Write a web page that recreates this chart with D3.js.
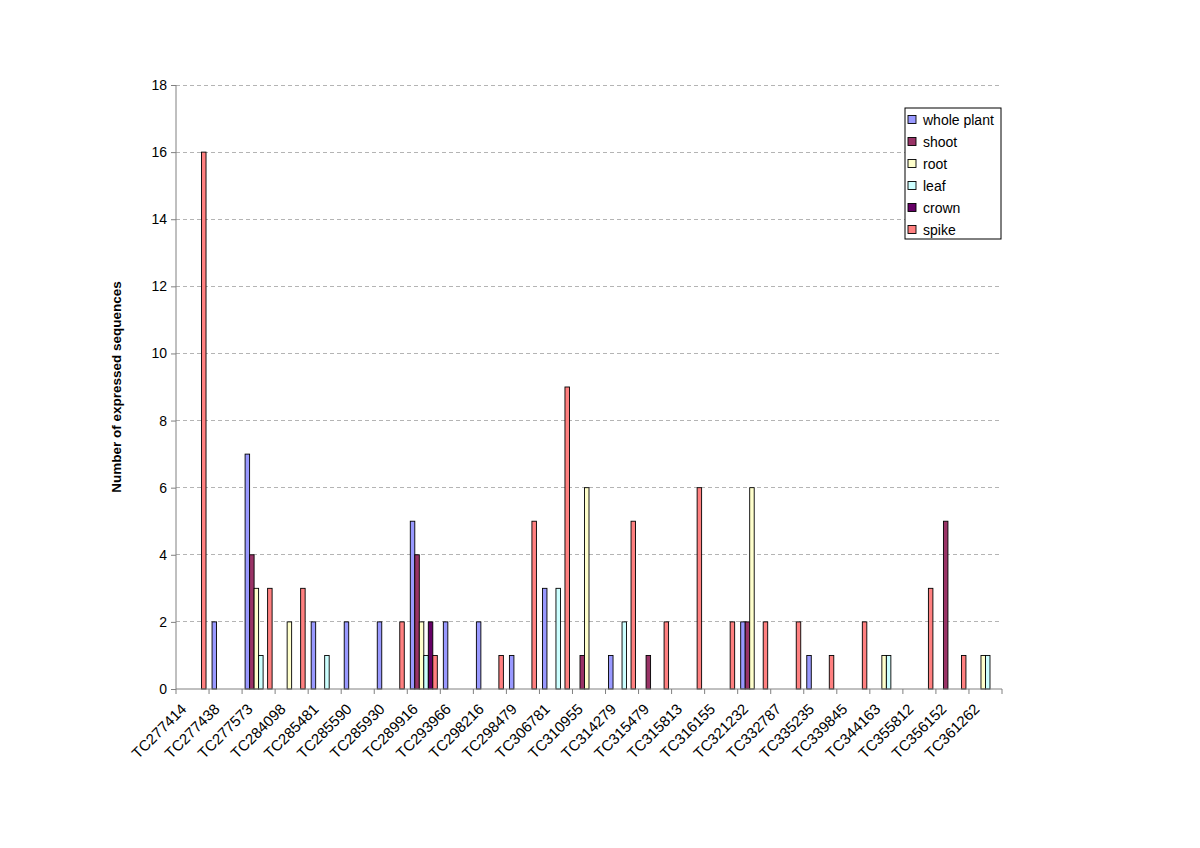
<!DOCTYPE html>
<html>
<head>
<meta charset="utf-8">
<script src="https://cdn.jsdelivr.net/npm/d3@7"></script>
<style>
  html, body { margin: 0; padding: 0; background: #fff; }
  svg { display: block; font-family: "Liberation Sans", Arial, sans-serif; }
</style>
</head>
<body>
<svg id="chart" width="1200" height="848"></svg>
<script>
const categories = ["TC277414","TC277438","TC277573","TC284098","TC285481","TC285590","TC285930","TC289916","TC293966","TC298216","TC298479","TC306781","TC310955","TC314279","TC315479","TC315813","TC316155","TC321232","TC332787","TC335235","TC339845","TC344163","TC355812","TC356152","TC361262"];
const seriesNames = ["whole plant","shoot","root","leaf","crown","spike"];
const seriesColors = ["#9999FF","#993366","#FFFFCC","#CCFFFF","#660066","#FF8080"];
const wholePlant = [0,2,7,0,2,2,2,5,2,2,1,3,0,1,0,0,0,2,0,1,0,0,0,0,0];
const shoot      = [0,0,4,0,0,0,0,4,0,0,0,0,1,0,1,0,0,2,0,0,0,0,0,5,0];
const root       = [0,0,3,2,0,0,0,2,0,0,0,0,6,0,0,0,0,6,0,0,0,1,0,0,1];
const leaf       = [0,0,1,0,1,0,0,1,0,0,0,3,0,2,0,0,0,0,0,0,0,1,0,0,1];
const crown      = [0,0,0,0,0,0,0,2,0,0,0,0,0,0,0,0,0,0,0,0,0,0,0,0,0];
const spike      = [16,0,3,3,0,0,2,1,0,1,5,9,0,5,2,6,2,2,2,1,2,0,3,1,0];
const yTicks = [0,2,4,6,8,10,12,14,16,18];
const yLabel = "Number of expressed sequences";

const seriesValues = [wholePlant, shoot, root, leaf, crown, spike];

(function () {
const svg = d3.select("#chart");
const pL = 176, pR = 1002, pT = 85, pB = 689;

const x = d3.scaleBand().domain(categories).range([pL, pR]).paddingInner(0).paddingOuter(0);
const xs = d3.scaleBand().domain(seriesNames).range([0, x.bandwidth()]).paddingInner(0).paddingOuter(0.67);
const y = d3.scaleLinear().domain([0, 18]).range([pB, pT]);

// gridlines
svg.append("g")
  .selectAll("line")
  .data(yTicks.filter(d => d > 0))
  .join("line")
  .attr("x1", pL).attr("x2", pR)
  .attr("y1", d => y(d)).attr("y2", d => y(d))
  .attr("stroke", "#b4b4b4")
  .attr("stroke-width", 1)
  .attr("stroke-dasharray", "4,3")
  .attr("shape-rendering", "crispEdges");

// bars
const barData = [];
seriesNames.forEach((s, si) => {
  categories.forEach((c, ci) => {
    const v = seriesValues[si][ci];
    if (v > 0) barData.push({ s, si, c, v });
  });
});
svg.append("g")
  .selectAll("rect")
  .data(barData)
  .join("rect")
  .attr("x", d => x(d.c) + xs(d.s))
  .attr("y", d => y(d.v))
  .attr("width", xs.bandwidth())
  .attr("height", d => y(0) - y(d.v))
  .attr("fill", d => seriesColors[d.si])
  .attr("stroke", "#000")
  .attr("stroke-width", 0.9);

// y axis
const yAxis = d3.axisLeft(y).tickValues(yTicks).tickSize(5).tickPadding(4).tickFormat(d3.format("d"));
const gy = svg.append("g").attr("transform", `translate(${pL},0)`).call(yAxis);
gy.select(".domain").attr("stroke", "#808080").attr("d", `M0,${pT}V${pB}`);
gy.selectAll(".tick line").attr("stroke", "#808080");
gy.selectAll(".tick text").attr("font-size", 14).attr("fill", "#000")
  .attr("font-family", "'Liberation Sans', Arial, sans-serif");

// x axis line
svg.append("line")
  .attr("x1", pL).attr("x2", pR)
  .attr("y1", pB).attr("y2", pB)
  .attr("stroke", "#808080");
// x ticks at category boundaries
const boundaries = categories.map(c => x(c)).concat([pR]);
svg.append("g").selectAll("line").data(boundaries).join("line")
  .attr("x1", d => d).attr("x2", d => d)
  .attr("y1", pB).attr("y2", pB + 5)
  .attr("stroke", "#808080");
// x labels
svg.append("g").selectAll("text").data(categories).join("text")
  .attr("transform", c => `translate(${x(c) + x.bandwidth() / 2 - 5},${pB + 21}) rotate(-45)`)
  .attr("text-anchor", "end")
  .attr("font-size", 15)
  .attr("fill", "#000")
  .text(c => c);

// y label
svg.append("text")
  .attr("transform", `translate(121,${(pT + pB) / 2}) rotate(-90)`)
  .attr("text-anchor", "middle")
  .attr("font-size", 13.5)
  .attr("font-weight", "bold")
  .attr("fill", "#000")
  .text(yLabel);

// legend
const lg = svg.append("g");
lg.append("rect")
  .attr("x", 905).attr("y", 108).attr("width", 96).attr("height", 131)
  .attr("fill", "#fff").attr("stroke", "#000").attr("stroke-width", 1);
const items = lg.selectAll("g.item").data(seriesNames).join("g")
  .attr("class", "item")
  .attr("transform", (d, i) => `translate(908,${119.5 + i * 22})`);
items.append("rect")
  .attr("x", 0).attr("y", -4).attr("width", 8).attr("height", 8)
  .attr("fill", (d, i) => seriesColors[i])
  .attr("stroke", "#000").attr("stroke-width", 0.9);
items.append("text")
  .attr("x", 15).attr("y", 5)
  .attr("font-size", 14)
  .attr("fill", "#000")
  .text(d => d);
})();
</script>
</body>
</html>
